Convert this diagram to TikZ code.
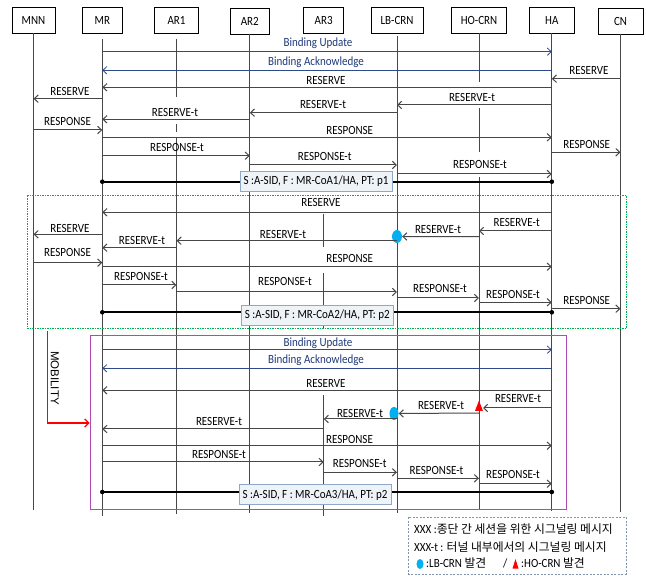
\documentclass[tikz,border=0pt]{standalone}
\usepackage{fontspec}
\setmainfont[FakeStretch=0.88]{Carlito}
\newfontfamily\kr{Noto Sans CJK KR}
\newfontfamily\mobfont{Liberation Sans}
\usetikzlibrary{arrows.meta,shapes.geometric}
\definecolor{ln}{HTML}{474747}
\definecolor{bl}{HTML}{2F4A8A}
\definecolor{bltx}{HTML}{1F3A7A}
\definecolor{grn}{HTML}{00B050}
\definecolor{pur}{HTML}{B048B8}
\definecolor{sbox}{HTML}{EEF3F8}
\definecolor{sbord}{HTML}{8FA8C8}
\definecolor{cyantwo}{HTML}{00B0F0}
\definecolor{lgd}{HTML}{8096B0}
\tikzset{
 hdr/.style={draw=black, line width=0.8pt, minimum height=26pt, inner sep=0pt, font=\fontsize{12.5}{13}\selectfont},
 life/.style={draw=ln, line width=0.9pt},
 arr/.style={draw=ln, line width=1pt, -{Straight Barb[length=4pt,width=7.5pt]}},
 barr/.style={draw=bl, line width=0.8pt, -{Straight Barb[length=4pt,width=7.5pt]}},
 lbl/.style={inner sep=0pt, font=\fontsize{12.5}{13}\selectfont, text=black},
 blbl/.style={lbl, text=bltx},
 thk/.style={draw=black, line width=2pt},
 sb/.style={draw=sbord, fill=sbox, line width=0.8pt, minimum width=152pt, minimum height=20pt, inner sep=0pt, font=\fontsize{12.5}{13}\selectfont},
 bdot/.style={ellipse, fill=cyantwo, inner sep=0pt, minimum width=10pt, minimum height=13pt},
 lgt/.style={anchor=west, inner sep=0pt, font=\fontsize{12.5}{13}\selectfont},
}
\newcommand\M[7]{\draw[arr] (#2 |- 0,#4) -- (#3 |- 0,#4); \node[lbl] (#1) at (#5,#6) {#7};}
\newcommand\B[7]{\draw[barr] (#2 |- 0,#4) -- (#3 |- 0,#4); \node[blbl] (#1) at (#5,#6) {#7};}
\newcommand\T[4]{\draw[thk] (MR |- 0,#2) -- (HA |- 0,#2);
 \fill (MR |- 0,#2) circle (2.3pt); \fill (HA |- 0,#2) circle (2.3pt);
 \node[sb] (#1) at #3 {#4};}
\begin{document}
\begin{tikzpicture}[x=1pt,y=-1pt]
\fill[white] (0,0) rectangle (646,577);
\useasboundingbox (0,0) rectangle (646,577);
% headers
\node[hdr, minimum width=43pt] (MNN) at (33.5,20) {MNN};
\node[hdr, minimum width=40pt] (MR) at (102.3,20) {MR};
\node[hdr, minimum width=44pt] (AR1) at (176.5,20) {AR1};
\node[hdr, minimum width=39pt] (AR2) at (249.8,21) {AR2};
\node[hdr, minimum width=40pt] (AR3) at (323.7,20) {AR3};
\node[hdr, minimum width=52pt] (LB) at (397,20) {LB-CRN};
\node[hdr, minimum width=55pt] (HO) at (479,20) {HO-CRN};
\node[hdr, minimum width=45pt] (HA) at (551.8,20) {HA};
\node[hdr, minimum width=45pt] (CN) at (620.5,21) {CN};
% lifelines
\draw[life] (MNN.south) -- (MNN |- 0,509.7);
\draw[life] (MR |- 0,39) -- (MR |- 0,516);
\draw[life] (AR1 |- 0,39) -- (AR1 |- 0,97);
\draw[life] (AR1 |- 0,124) -- (AR1 |- 0,132);
\draw[life] (AR1 |- 0,137) -- (AR1 |- 0,514);
\draw[life] (AR2.south) -- (AR2 |- 0,513);
\draw[life] (AR3 |- 0,214) -- (AR3 |- 0,247);
\draw[life] (AR3 |- 0,273) -- (AR3 |- 0,328);
\draw[life] (AR3 |- 0,395) -- (AR3 |- 0,516);
\draw[life] (LB |- 0,36) -- (LB |- 0,513);
\draw[life] (HO.south) -- (HO |- 0,82);
\draw[life] (HO |- 0,108) -- (HO |- 0,152);
\draw[life] (HO |- 0,177) -- (HO |- 0,509.7);
\draw[life] (HA.south) -- (HA |- 0,510.7);
\draw[life] (CN.south) -- (CN |- 0,512);
% group frames
\draw[grn, line width=0.7pt, dash pattern=on 1.5pt off 1pt] (27.3,195.7) rectangle (626.7,328.3);
\draw[pur, line width=0.9pt] (90.7,335.7) rectangle (566.7,509);
% section 1
\B{b1}{MR}{HA}{51.7}{318}{43.3}{Binding Update}
\B{b2}{HA}{MR}{70.3}{316}{62}{Binding Acknowledge}
\M{m3}{CN}{HA}{78.7}{589}{70}{RESERVE}
\M{m4}{HA}{MR}{87.3}{326}{80}{RESERVE}
\M{m5}{MR}{MNN}{98.7}{70}{91}{RESERVE}
\M{m6}{HA}{LB}{105}{472}{97}{RESERVE-t}
\M{m7}{LB}{AR2}{112.7}{323}{104}{RESERVE-t}
\M{m8}{AR2}{MR}{119.3}{175}{112}{RESERVE-t}
\M{m9}{MNN}{MR}{130}{67.5}{121}{RESPONSE}
\M{m10}{MR}{HA}{137.3}{349.7}{130.7}{RESPONSE}
\M{m11}{HA}{CN}{152.3}{586.7}{144}{RESPONSE}
\M{m12}{MR}{AR2}{155.7}{177}{147.7}{RESPONSE-t}
\M{m13}{AR2}{LB}{165}{324.7}{156.7}{RESPONSE-t}
\M{m14}{LB}{HA}{174}{480}{164.3}{RESPONSE-t}
\T{s1}{181.7}{(316,181.2)}{S :A-SID, F : MR-CoA1/HA, PT: p1}
% section 2
\M{m16}{HA}{MR}{212.3}{321}{202.3}{RESERVE}
\M{m17}{HA}{HO}{231}{516.7}{222.7}{RESERVE-t}
\node[bdot] (d1) at (397,236.5) {};
\draw[arr] (HO |- 0,236.7) -- (d1.east);
\node[lbl] (m18) at (438,229.5) {RESERVE-t};
\M{m19}{LB}{AR1}{240.7}{283}{234}{RESERVE-t}
\M{m20}{MR}{MNN}{234.3}{70}{228.7}{RESERVE}
\M{m21}{AR1}{MR}{247.7}{142}{240.7}{RESERVE-t}
\M{m22}{MNN}{MR}{262.7}{67.5}{252.7}{RESPONSE}
\M{m23}{MR}{HA}{266.7}{349.7}{258.3}{RESPONSE}
\M{m24}{MR}{AR1}{285}{141}{276.7}{RESPONSE-t}
\M{m25}{AR1}{LB}{292}{285}{281.7}{RESPONSE-t}
\M{m26}{LB}{HO}{298}{440}{288}{RESPONSE-t}
\M{m27}{HO}{HA}{302.3}{513}{294.7}{RESPONSE-t}
\M{m28}{HA}{CN}{308.7}{586.7}{300.7}{RESPONSE}
\T{s2}{312.3}{(317.3,315)}{S :A-SID, F : MR-CoA2/HA, PT: p2}
% mobility
\coordinate (mobA) at (47.7,331.3);
\coordinate (mobB) at (89.6,423);
\draw[red, line width=1.3pt, -{Straight Barb[length=4pt,width=8pt]}] (mobA) |- (mobB);
\node[rotate=-90, inner sep=0pt, font=\mobfont\fontsize{11.5}{12}\selectfont] (mob) at (54.8,378) {MOBILITY};
% section 3
\B{b30}{MR}{HA}{349.7}{318}{343.7}{Binding Update}
\B{b31}{HA}{MR}{368.3}{316}{360}{Binding Acknowledge}
\M{m32}{HA}{MR}{390.3}{326}{383}{RESERVE}
\coordinate (tri) at (483,408);
\fill[red] (475,411) -- (479,400.5) -- (483,411) -- cycle;
\draw[arr] (HA |- 0,408) -- (tri);
\node[lbl] (m33) at (518,398.7) {RESERVE-t};
\node[bdot, minimum width=9pt] (d2) at (394,413.5) {};
\draw[arr] (HO |- 0,413) -- (d2.east);
\node[lbl] (m34) at (441,405.5) {RESERVE-t};
\M{m35}{LB}{AR3}{419}{360}{413.7}{RESERVE-t}
\M{m36}{AR3}{MR}{429}{219}{421.7}{RESERVE-t}
\M{m37}{MR}{HA}{445.7}{349.5}{439}{RESPONSE}
\M{m38}{MR}{AR3}{462}{219}{454.7}{RESPONSE-t}
\M{m39}{AR3}{LB}{472.3}{359.7}{463.7}{RESPONSE-t}
\M{m40}{LB}{HO}{478.3}{436.5}{470}{RESPONSE-t}
\M{m41}{HO}{HA}{483.7}{513}{474.7}{RESPONSE-t}
\T{s3}{492}{(315,494.7)}{S :A-SID, F : MR-CoA3/HA, PT: p2}
% legend
\draw[lgd, line width=0.8pt, dash pattern=on 2pt off 1.5pt] (408.3,517.3) rectangle (626,574);
\node[lgt] (lg1) at (414,529.5) {XXX :{\kr\fontsize{11.8}{12}\selectfont 종단 간 세션을 위한 시그널링 메시지}};
\node[lgt] (lg2) at (414,547.5) {XXX-t : {\kr\fontsize{11.8}{12}\selectfont 터널 내부에서의 시그널링 메시지}};
\node[bdot, minimum width=7pt, minimum height=10pt] (lgd1) at (420,564) {};
\node[lgt] (lg3) at (426,563.5) {:LB-CRN {\kr\fontsize{11.8}{12}\selectfont 발견}};
\node[lgt] (lgs) at (503,563.5) {/};
\fill[red] (512.5,568.5) -- (515.5,559) -- (518.5,568.5) -- cycle;
\node[lgt] (lg4) at (521,563.5) {:HO-CRN {\kr\fontsize{11.8}{12}\selectfont 발견}};
\end{tikzpicture}
\end{document}
